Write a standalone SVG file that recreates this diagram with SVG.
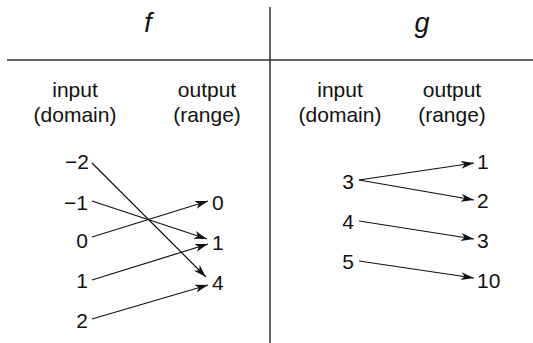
<svg xmlns="http://www.w3.org/2000/svg" width="533" height="343" viewBox="0 0 533 343">
<style>
text{font-family:"Liberation Sans",Arial,sans-serif;fill:#111;}
.h{font-size:27px;font-style:italic;text-anchor:middle;}
.lab{font-size:21px;text-anchor:middle;}
.n{font-size:21px;}
.in{text-anchor:end;}
.out{text-anchor:start;}
.rule{stroke:#333;stroke-width:1.5;fill:none;}
.arr{stroke:#111;stroke-width:1.2;fill:none;marker-end:url(#ah);}
</style>
<defs>
<marker id="ah" markerUnits="userSpaceOnUse" markerWidth="14" markerHeight="9" refX="13" refY="4" orient="auto" viewBox="0 0 14 9">
<path d="M0,0 L13,4 L0,8 L3.5,4 Z" fill="#111"/>
</marker>
</defs>
<g id="table">
<line class="rule" x1="7" y1="60" x2="533" y2="60"/>
<line class="rule" x1="270" y1="7" x2="270" y2="343"/>
</g>
<g id="header-f"><text class="h" x="148" y="32">f</text></g>
<g id="header-g"><text class="h" x="422" y="32">g</text></g>
<g id="f-labels">
<text class="lab" x="75" y="97">input</text>
<text class="lab" x="75" y="122">(domain)</text>
<text class="lab" x="207" y="97">output</text>
<text class="lab" x="207" y="122">(range)</text>
</g>
<g id="g-labels">
<text class="lab" x="340" y="97">input</text>
<text class="lab" x="340" y="122">(domain)</text>
<text class="lab" x="452" y="97">output</text>
<text class="lab" x="452" y="122">(range)</text>
</g>
<g id="f-domain">
<text class="n in" x="89" y="169">−2</text>
<text class="n in" x="88" y="210">−1</text>
<text class="n in" x="88" y="248">0</text>
<text class="n in" x="88" y="288">1</text>
<text class="n in" x="88" y="328">2</text>
</g>
<g id="f-range">
<text class="n out" x="212" y="210">0</text>
<text class="n out" x="212" y="250">1</text>
<text class="n out" x="212" y="290">4</text>
</g>
<g id="g-domain">
<text class="n in" x="354" y="189">3</text>
<text class="n in" x="354" y="229">4</text>
<text class="n in" x="354" y="269">5</text>
</g>
<g id="g-range">
<text class="n out" x="477" y="169">1</text>
<text class="n out" x="477" y="208">2</text>
<text class="n out" x="477" y="248">3</text>
<text class="n out" x="477" y="288">10</text>
</g>
<g id="connectors">
<line class="arr" x1="92" y1="163" x2="206" y2="277"/>
<line class="arr" x1="92" y1="201" x2="207" y2="239"/>
<line class="arr" x1="92" y1="237" x2="208" y2="201"/>
<line class="arr" x1="92" y1="280" x2="208" y2="244"/>
<line class="arr" x1="92" y1="319" x2="208" y2="285"/>
<line class="arr" x1="359" y1="180" x2="474" y2="163"/>
<line class="arr" x1="359" y1="180" x2="474" y2="200"/>
<line class="arr" x1="359" y1="221" x2="474" y2="239"/>
<line class="arr" x1="359" y1="261" x2="474" y2="278"/>
</g>
</svg>
